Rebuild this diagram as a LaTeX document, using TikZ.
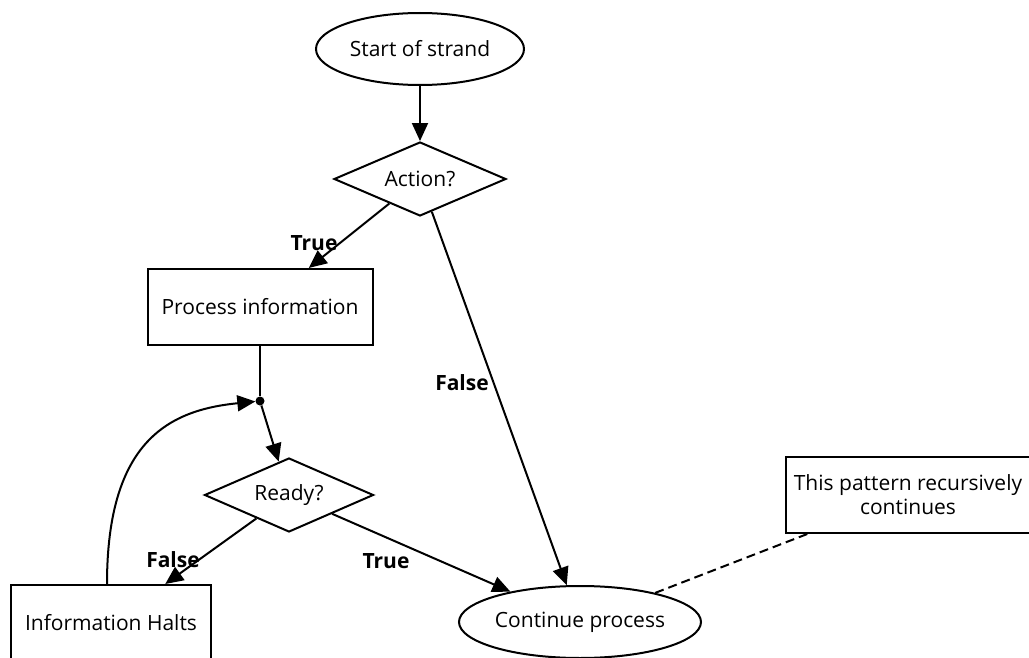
\documentclass[tikz,border=0pt]{standalone}
\usepackage{fontspec}
\setmainfont{Open Sans}
\usetikzlibrary{shapes.geometric,arrows.meta}

\begin{document}
\begin{tikzpicture}[x=1pt,y=-1pt,
    term_node/.style={ellipse,draw=black,line width=2pt,fill=white,inner sep=0pt,font=\fontsize{21}{24}\selectfont},
    test_node/.style={diamond,draw=black,line width=2pt,fill=white,inner sep=0pt,font=\fontsize{21}{24}\selectfont},
    box_node/.style={rectangle,draw=black,line width=2pt,fill=white,inner sep=0pt,font=\fontsize{21}{24}\selectfont},
    join_node/.style={circle,fill=black,inner sep=0pt,minimum size=9pt},
    flow_edge/.style={black,line width=2pt,-{Triangle[length=18pt,width=16pt]}},
    plain_edge/.style={black,line width=2pt},
    note_edge/.style={black,line width=2pt,dash pattern=on 9pt off 5pt},
    edge_label/.style={text=black,font=\fontsize{21}{24}\selectfont\bfseries}]
  \clip (0,0) rectangle (1029,658);
\node[term_node,minimum width=208pt,minimum height=72pt] (0) at (420,49) {Start of strand};
\node[test_node,aspect=2.32,minimum width=172pt,minimum height=74pt] (1) at (420,179) {Action?};
\node[box_node,minimum width=225pt,minimum height=76pt] (2) at (260,307) {Process information};
\node[join_node] (3) at (260,401) {};
\node[test_node,aspect=2.28,minimum width=169pt,minimum height=74pt] (4) at (289,495) {Ready?};
\node[box_node,minimum width=200pt,minimum height=76pt] (5) at (111,623) {Information Halts};
\node[term_node,minimum width=242pt,minimum height=72pt] (6) at (580,622) {Continue process};
\node[box_node,minimum width=244pt,minimum height=76pt,align=center] (7) at (908,495) {This pattern recursively\\continues};
\draw[flow_edge] (0) -- (1);
\draw[flow_edge] (1) -- (2);
\draw[flow_edge] (1) -- (6);
\draw[plain_edge] (2) -- (3);
\draw[flow_edge] (3) -- (4);
\draw[flow_edge] (4) -- (5);
\draw[flow_edge] (4) -- (6);
\draw[flow_edge] (5.north -| 107,585) .. controls (107,440) and (170,410) .. (3);
\draw[note_edge] (6) -- (7);
\node[edge_label] (8) at (314,243) {True};
\node[edge_label] (9) at (462,383) {False};
\node[edge_label] (10) at (173,560) {False};
\node[edge_label] (11) at (386,561) {True};
\end{tikzpicture}
\end{document}
